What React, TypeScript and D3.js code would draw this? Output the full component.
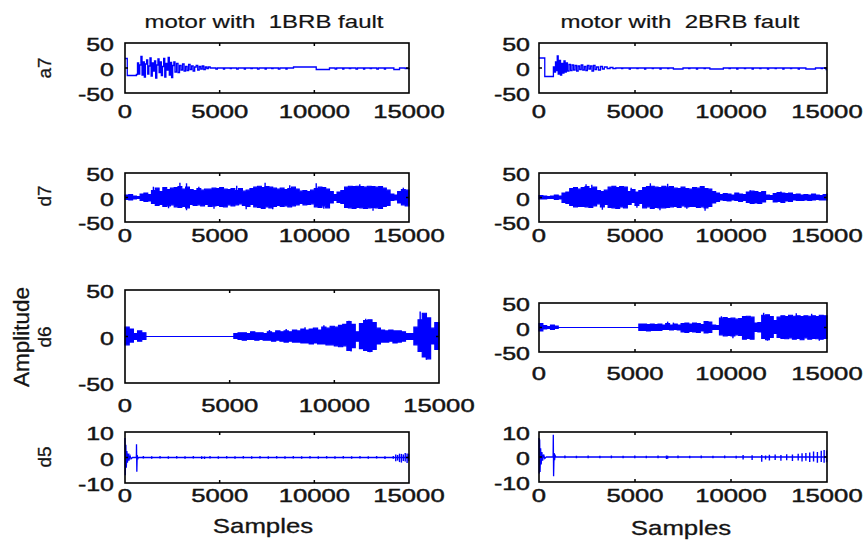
import React from 'react';
import * as d3 from 'd3';

type Pt = [number, number];
type Blip = [number, number, number];

// ---------- axis ticks ----------
const X_TICKS = [0, 5000, 10000, 15000];
const Y_TICKS_WIDE = [-50, 0, 50];
const Y_TICKS_NARROW = [-10, 0, 10];
const ENV_STEP = 200; // samples between envelope values

const TITLES = ['motor with  1BRB fault', 'motor with  2BRB fault'];
const ROW_LABELS = ['a7', 'd7', 'd6', 'd5'];

// ---------- a7 (approximation) traces: [sample, value] ----------
const a7Left: Pt[] = [
  [0, 19], [120, -15], [600, -13], [660, 10], [720, -12], [780, 6], [840, 23], [900, -14], [960, 12], [1020, -18],
  [1080, 8], [1140, 16], [1200, -12], [1260, 4], [1320, 20], [1380, -16], [1440, 10], [1500, -6], [1560, 14], [1620, -20],
  [1680, 6], [1740, 18], [1800, -9], [1860, 12], [1920, -15], [1980, 3], [2040, 19], [2100, -18], [2160, 9], [2220, -4],
  [2280, 21], [2340, -14], [2400, 11], [2460, -19], [2520, 5], [2580, 12], [2640, -8], [2720, 9], [2800, -9], [2880, 5],
  [2960, -4], [3040, 8], [3120, -6], [3200, 3], [3280, -5], [3360, 7], [3440, -3], [3520, 4], [3600, -6], [3680, 2],
  [3760, 5], [3840, -4], [3920, 3], [4000, -2], [4080, 4], [4160, -3], [4240, 2], [4320, -1], [4400, 2], [4500, 0],
  [4800, -2], [4880, 0], [5200, -2], [5260, 0], [5560, -1], [5620, 0], [5900, -2], [5980, 0], [6300, -2], [6360, 0],
  [6650, -1], [6720, 0], [7000, -2], [7080, 0], [7400, -2], [7460, 0], [7750, -1], [7820, 0], [8100, -2], [8180, 0],
  [8500, -2], [8560, 0], [8900, 2], [10100, -3], [10800, 0], [11100, -2], [11180, 0], [11500, -2], [11560, 0], [11850, -1],
  [11920, 0], [12200, -2], [12280, 0], [12600, -2], [12660, 0], [12950, -1], [13020, 0], [13300, -2], [13380, 0], [13700, -2],
  [13760, 0], [14200, -3], [14500, 0], [14800, -1], [15000, 0],
];

const a7Right: Pt[] = [
  [0, 20], [300, -17], [750, 2], [800, -8], [860, 12], [900, -5], [950, 24], [1000, -12], [1060, 15], [1120, -14],
  [1180, 9], [1240, -10], [1300, 14], [1360, -8], [1420, 10], [1480, -6], [1560, 7], [1640, -5], [1720, 6], [1800, -4],
  [1880, 5], [1960, -6], [2040, 4], [2120, -3], [2200, 6], [2280, -4], [2360, 3], [2440, -5], [2520, 5], [2600, -2],
  [2680, 4], [2760, -6], [2840, 5], [2920, -3], [3000, 2], [3100, -4], [3200, 3], [3300, -2], [3400, 2], [3550, -1],
  [3700, 1], [3850, -1], [4000, 0], [4300, -1], [4360, 0], [4700, -2], [4760, 0], [5100, -1], [5160, 0], [5500, -2],
  [5560, 0], [5900, -1], [5960, 0], [6300, -2], [6360, 0], [6700, -1], [6760, 0], [7000, -2], [7500, 0], [7800, -1],
  [7860, 0], [8200, -2], [8260, 0], [8600, -1], [8660, 0], [8900, -2], [9600, 0], [9900, -1], [9960, 0], [10300, -2],
  [10360, 0], [10700, -1], [10760, 0], [11100, -2], [11160, 0], [11500, -1], [11560, 0], [11900, -2], [11960, 0], [12300, -1],
  [12360, 0], [12700, -2], [12760, 0], [13100, -1], [13160, 0], [13500, -2], [13560, 0], [13900, -2], [14400, 0], [14700, -1],
  [14760, 0], [14950, -3], [15000, -3],
];

// ---------- d7 envelopes (one value every 200 samples) ----------
const d7LeftHi = [
  5, 6, 3, 2, 7, 9, 6, 14, 19, 12,
  20, 16, 19, 20, 22, 17, 21, 16, 14, 18,
  15, 17, 17, 19, 18, 20, 17, 16, 18, 14,
  18, 13, 15, 18, 21, 23, 20, 22, 21, 19,
  17, 19, 16, 18, 21, 17, 13, 14, 12, 15,
  18, 21, 20, 17, 12, 6, 11, 14, 21, 23,
  22, 23, 22, 21, 23, 22, 21, 22, 19, 15,
  7, 5, 12, 16, 15, 14,
];
const d7LeftLo = [
  -4, -5, -3, -2, -6, -8, -7, -12, -16, -14,
  -18, -17, -15, -19, -20, -18, -21, -14, -16, -15,
  -17, -14, -18, -17, -16, -18, -19, -15, -17, -15,
  -13, -16, -18, -14, -19, -20, -22, -19, -21, -18,
  -16, -18, -17, -19, -17, -15, -12, -15, -14, -13,
  -19, -20, -17, -21, -11, -6, -10, -12, -20, -21,
  -22, -20, -21, -22, -21, -20, -21, -22, -18, -16,
  -6, -5, -11, -15, -17, -13,
];
const d7LeftSpikes: Blip[] = [
  [1500, 22, -6], [2300, 4, -22], [2900, 30, -8], [3250, 29, -26], [3900, 22, -4], [4700, 6, -23],
  [5900, 24, -8], [6400, 8, -24], [7400, 30, -10], [7800, 6, -24], [8700, 25, -6], [10100, 29, -12],
  [10500, 6, -23], [12400, 27, -8], [13100, 8, -27], [14700, 20, -6],
];
const d7RightHi = [
  4, 3, 2, 3, 5, 3, 9, 11, 18, 20,
  17, 20, 22, 18, 21, 14, 12, 15, 21, 23,
  20, 22, 21, 12, 16, 11, 14, 20, 22, 23,
  21, 20, 23, 21, 22, 19, 18, 21, 18, 17,
  20, 19, 22, 18, 17, 12, 9, 6, 8, 7,
  5, 9, 7, 6, 11, 13, 12, 10, 12, 5,
  4, 8, 10, 9, 8, 9, 6, 7, 5, 6,
  5, 7, 5, 4, 6, 8,
];
const d7RightLo = [
  -3, -3, -2, -2, -4, -3, -10, -12, -16, -19,
  -18, -18, -19, -20, -17, -13, -19, -14, -20, -21,
  -22, -19, -21, -14, -10, -16, -12, -21, -19, -22,
  -20, -21, -21, -20, -19, -18, -20, -17, -19, -18,
  -18, -20, -19, -21, -18, -11, -8, -5, -6, -7,
  -5, -6, -8, -6, -10, -12, -11, -12, -9, -4,
  -4, -9, -8, -10, -7, -8, -5, -6, -6, -5,
  -6, -5, -4, -5, -5, -6,
];
const d7RightSpikes: Blip[] = [
  [2450, 27, -6], [2750, 26, -8], [3300, 6, -25], [4800, 20, -5], [5100, 5, -21], [5800, 29, -8],
  [6300, 8, -26], [6700, 28, -6], [7700, 6, -23], [8650, 6, -27], [11000, 15, -4], [12600, 12, -4],
];

// ---------- d6 envelopes ----------
const d6LeftHi = [
  10, 8, 3, 6, 4, 0, 0, 0, 0, 0,
  0, 0, 0, 0, 0, 0, 0, 0, 0, 0,
  0, 0, 0, 0, 0, 0, 3, 4, 4, 3,
  5, 4, 4, 3, 5, 4, 6, 5, 6, 5,
  7, 6, 8, 7, 8, 9, 7, 10, 9, 11,
  10, 12, 13, 16, 13, 5, 14, 17, 18, 15,
  9, 7, 6, 7, 6, 6, 5, 3, 3, 10,
  18, 25, 20, 9, 15, 14,
];
const d6LeftLo = [
  -9, -6, -3, -5, -3, 0, 0, 0, 0, 0,
  0, 0, 0, 0, 0, 0, 0, 0, 0, 0,
  0, 0, 0, 0, 0, 0, -2, -3, -4, -3,
  -3, -4, -3, -4, -4, -5, -4, -5, -6, -5,
  -6, -6, -7, -7, -8, -7, -8, -8, -9, -9,
  -10, -11, -10, -15, -12, -5, -13, -15, -16, -14,
  -8, -6, -6, -5, -7, -6, -5, -3, -3, -9,
  -16, -22, -24, -8, -14, -13,
];
const d6LeftSpikes: Blip[] = [
  [6900, 7, -2], [7700, 8, -3], [8600, 10, -4], [9500, 12, -5], [10700, 17, -4], [10800, 4, -16],
  [11500, 19, -6], [11700, 5, -17], [14100, 27, -8], [14400, 6, -25],
];
const d6RightHi = [
  8, 4, 2, 5, 3, 0, 0, 0, 0, 0,
  0, 0, 0, 0, 0, 0, 0, 0, 0, 0,
  0, 0, 0, 0, 0, 0, 7, 7, 6, 7,
  6, 7, 5, 8, 5, 7, 5, 8, 9, 7,
  9, 8, 6, 12, 11, 5, 4, 19, 20, 18,
  19, 17, 18, 22, 23, 21, 9, 10, 25, 26,
  22, 14, 21, 24, 22, 25, 23, 24, 22, 24,
  23, 24, 22, 25, 24, 22,
];
const d6RightLo = [
  -7, -3, -2, -4, -2, 0, 0, 0, 0, 0,
  0, 0, 0, 0, 0, 0, 0, 0, 0, 0,
  0, 0, 0, 0, 0, 0, -6, -6, -7, -6,
  -6, -6, -4, -4, -5, -4, -5, -9, -10, -8,
  -9, -10, -7, -11, -10, -4, -4, -15, -17, -16,
  -17, -15, -16, -24, -22, -24, -8, -9, -22, -25,
  -20, -12, -20, -22, -23, -21, -24, -22, -25, -21,
  -24, -22, -23, -24, -22, -21,
];
const d6RightSpikes: Blip[] = [
  [6700, 12, -2], [7000, 10, -3], [9500, 23, -6], [10100, 7, -22], [11700, 30, -8], [11900, 8, -27],
  [13400, 29, -6], [14200, 28, -8], [14600, 6, -27],
];

// ---------- d5 traces ----------
const d5Left: Pt[] = [
  [0, 7.6], [15, -7], [45, 5], [70, -4], [100, 2.5], [130, -2], [170, 1.5], [210, -1.2], [260, 0.8], [320, -0.5],
  [400, 0], [600, 0], [608, 5.2], [625, -5.6], [645, 1], [670, -0.7], [700, 0], [15000, 0],
];
const d5LeftBlips: Blip[] = [
  [970, 0.6, -0.4], [1410, 0.5, -0.5], [1850, 0.6, -0.4], [2290, 0.5, -0.5], [2730, 0.6, -0.4], [3170, 0.5, -0.5],
  [3610, 0.6, -0.4], [4050, 0.5, -0.6], [4200, 0.4, -0.6], [4490, 0.6, -0.4], [4930, 0.5, -0.5], [5370, 0.6, -0.4],
  [5810, 0.5, -0.5], [6250, 0.6, -0.4], [6690, 0.5, -0.5], [7130, 0.6, -0.4], [7570, 0.5, -0.5], [8010, 0.6, -0.4],
  [8450, 0.5, -0.5], [8890, 0.6, -0.4], [9330, 0.5, -0.5], [9770, 0.6, -0.4], [10210, 0.5, -0.5], [10650, 0.6, -0.4],
  [11090, 0.5, -0.5], [11530, 0.6, -0.4], [11970, 0.5, -0.5], [12410, 0.6, -0.4], [12850, 0.5, -0.5], [13290, 0.6, -0.4],
  [13730, 0.5, -0.6], [14170, 0.6, -0.5], [14300, 1.2, -1.5], [14400, 1.0, -1.2], [14500, 1.5, -1.8], [14600, 1.4, -2.0],
  [14700, 1.2, -1.4], [14800, 1.8, -1.6], [14900, 1.6, -2.2], [14980, 1.5, -1.5],
];
const d5Right: Pt[] = [
  [0, 7.6], [12, -6.6], [35, 7], [55, -6], [85, 3.5], [115, -3], [150, 2], [190, -1.5], [240, 1], [300, -0.6],
  [380, 0], [735, 0], [745, 8.9], [760, -7.7], [785, 1.6], [810, -1.3], [840, 0.6], [880, 0], [15000, 0],
];
const d5RightBlips: Blip[] = [
  [1350, 0.6, -0.5], [1950, 0.5, -0.5], [2560, 0.6, -0.5], [3170, 0.5, -0.5], [3770, 0.6, -0.5], [4380, 0.5, -0.5],
  [4990, 0.6, -0.5], [5590, 0.5, -0.5], [6200, 0.6, -0.5], [6640, 0.6, -0.8], [6700, 0.5, -0.7], [7240, 0.6, -0.5],
  [7850, 0.5, -0.5], [8450, 0.6, -0.5], [9060, 0.5, -0.5], [9670, 0.6, -0.5], [10270, 0.5, -0.6], [10630, 0.8, -1.0],
  [11100, 0.7, -1.2], [11600, 0.8, -1.9], [11800, 0.6, -1.0], [12000, 0.9, -1.4], [12300, 1.0, -1.2], [12600, 0.8, -1.5],
  [12900, 1.1, -1.3], [13200, 1.0, -1.6], [13500, 1.3, -1.4], [13700, 1.5, -1.8], [13900, 1.6, -1.5], [14100, 1.8, -2.0],
  [14300, 2.2, -1.8], [14500, 2.0, -2.3], [14700, 2.5, -2.0], [14850, 2.8, -2.3], [14980, 2.6, -2.1],
];

// ---------- rendering ----------
const BLUE = '#0000ff';
const INK = '#141414';
const FONT = "'Liberation Sans', Arial, Helvetica, sans-serif";
const SX = 1.35;

type Env = { hi: number[]; lo: number[] };
interface PanelSpec {
  x0: number; x1: number; y0: number; y1: number;
  yDomain: [number, number]; yTicks: number[];
  line?: Pt[]; step?: boolean; env?: Env; blips?: Blip[];
  xLabelBase: number; yGap: number; rowLabel?: string; rowLabelY?: number;
}

const L0 = 125, L1 = 409, R0 = 539, R1 = 827;

const panels: PanelSpec[] = [
  { x0: L0, x1: L1, y0: 43, y1: 93, yDomain: [-50, 50], yTicks: Y_TICKS_WIDE, line: a7Left, step: true, xLabelBase: 118, yGap: 11, rowLabel: ROW_LABELS[0], rowLabelY: 68 },
  { x0: R0, x1: R1, y0: 43, y1: 93, yDomain: [-50, 50], yTicks: Y_TICKS_WIDE, line: a7Right, step: true, xLabelBase: 118, yGap: 9 },
  { x0: L0, x1: L1, y0: 173, y1: 222, yDomain: [-50, 50], yTicks: Y_TICKS_WIDE, env: { hi: d7LeftHi, lo: d7LeftLo }, blips: d7LeftSpikes, xLabelBase: 242, yGap: 11, rowLabel: ROW_LABELS[1], rowLabelY: 196 },
  { x0: R0, x1: R1, y0: 173, y1: 222, yDomain: [-50, 50], yTicks: Y_TICKS_WIDE, env: { hi: d7RightHi, lo: d7RightLo }, blips: d7RightSpikes, xLabelBase: 242, yGap: 9 },
  { x0: L0, x1: 439, y0: 290, y1: 383, yDomain: [-50, 50], yTicks: Y_TICKS_WIDE, env: { hi: d6LeftHi, lo: d6LeftLo }, blips: d6LeftSpikes, xLabelBase: 412, yGap: 11, rowLabel: ROW_LABELS[2], rowLabelY: 337 },
  { x0: R0, x1: R1, y0: 303, y1: 352, yDomain: [-50, 50], yTicks: Y_TICKS_WIDE, env: { hi: d6RightHi, lo: d6RightLo }, blips: d6RightSpikes, xLabelBase: 380, yGap: 9 },
  { x0: L0, x1: L1, y0: 432, y1: 483, yDomain: [-10, 10], yTicks: Y_TICKS_NARROW, line: d5Left, blips: d5LeftBlips, xLabelBase: 502, yGap: 11, rowLabel: ROW_LABELS[3], rowLabelY: 457 },
  { x0: R0, x1: R1, y0: 432, y1: 482, yDomain: [-10, 10], yTicks: Y_TICKS_NARROW, line: d5Right, blips: d5RightBlips, xLabelBase: 502, yGap: 9 },
];

function HText(props: { x: number; y: number; size: number; anchor?: string; sx?: number; bold?: number; children: React.ReactNode }) {
  const { x, y, size, anchor = 'middle', sx = SX, bold = 0.45, children } = props;
  return (
    <text transform={`translate(${x},${y}) scale(${sx},1)`} textAnchor={anchor as any} fontSize={size}
      fontFamily={FONT} fill={INK} stroke={INK} strokeWidth={bold} style={{ whiteSpace: 'pre' }}>{children}</text>
  );
}

function VText(props: { x: number; y: number; size: number; children: React.ReactNode }) {
  const { x, y, size, children } = props;
  return (
    <text transform={`translate(${x},${y}) rotate(-90)`} textAnchor="middle" fontSize={size}
      fontFamily={FONT} fill={INK} stroke={INK} strokeWidth={0.3}>{children}</text>
  );
}

function Panel({ p }: { p: PanelSpec }) {
  const x = d3.scaleLinear().domain([0, 15000]).range([p.x0, p.x1]);
  const y = d3.scaleLinear().domain(p.yDomain).range([p.y1, p.y0]);
  let envPath: string | null = null;
  if (p.env) {
    const lo = p.env.lo;
    const area = d3.area<number>()
      .x((_, i) => x(i * ENV_STEP))
      .y0((_, i) => y(lo[i]))
      .y1((d) => y(d))
      .curve(d3.curveStepAfter);
    envPath = area(p.env.hi);
  }
  let linePath: string | null = null;
  if (p.line) {
    const line = d3.line<Pt>().x((d) => x(d[0])).y((d) => y(d[1]))
      .curve(p.step ? d3.curveStepAfter : d3.curveLinear);
    linePath = line(p.line);
  }
  const innerX = X_TICKS.filter((t) => t > 0 && t < 15000);
  return (
    <g>
      {envPath && <path d={envPath} fill={BLUE} stroke={BLUE} strokeWidth={1.2} />}
      {linePath && <path d={linePath} fill="none" stroke={BLUE} strokeWidth={1.3} />}
      {p.blips && p.blips.map((b, i) => (
        <line key={i} x1={x(b[0])} x2={x(b[0])} y1={y(b[1])} y2={y(b[2])} stroke={BLUE} strokeWidth={1.4} />
      ))}
      <rect x={p.x0} y={p.y0} width={p.x1 - p.x0} height={p.y1 - p.y0} fill="none" stroke="#000" strokeWidth={1.6} />
      {innerX.map((t) => (
        <g key={t}>
          <line x1={x(t)} x2={x(t)} y1={p.y0} y2={p.y0 + 3} stroke="#000" strokeWidth={1.5} />
          <line x1={x(t)} x2={x(t)} y1={p.y1} y2={p.y1 - 3} stroke="#000" strokeWidth={1.5} />
        </g>
      ))}
      <line x1={p.x0} x2={p.x0 + 3} y1={y(0)} y2={y(0)} stroke="#000" strokeWidth={1.5} />
      <line x1={p.x1} x2={p.x1 - 3} y1={y(0)} y2={y(0)} stroke="#000" strokeWidth={1.5} />
      {X_TICKS.map((t) => (
        <HText key={'x' + t} x={x(t)} y={p.xLabelBase} size={19}>{String(t)}</HText>
      ))}
      {p.yTicks.map((t) => (
        <HText key={'y' + t} x={p.x0 - p.yGap} y={y(t) + 8} size={18.5} anchor="end">{String(t)}</HText>
      ))}
      {p.rowLabel && <VText x={51} y={p.rowLabelY as number} size={19}>{p.rowLabel}</VText>}
    </g>
  );
}

export default function App() {
  return (
    <svg width={866} height={540} viewBox="0 0 866 540"
      style={{ position: 'absolute', left: 0, top: 0, background: '#fff', display: 'block' }}>
      <rect x={0} y={0} width={866} height={540} fill="#fff" />
      <HText x={(L0 + L1) / 2 - 3} y={28} size={18.5} sx={1.3} bold={0.2}>{TITLES[0]}</HText>
      <HText x={(R0 + R1) / 2 - 3} y={28} size={18.5} sx={1.3} bold={0.2}>{TITLES[1]}</HText>
      {panels.map((p, i) => <Panel key={i} p={p} />)}
      <VText x={29} y={337} size={22.5}>Amplitude</VText>
      <HText x={263} y={533} size={20} sx={1.29} bold={0.3}>Samples</HText>
      <HText x={681} y={535} size={20} sx={1.29} bold={0.3}>Samples</HText>
    </svg>
  );
}
